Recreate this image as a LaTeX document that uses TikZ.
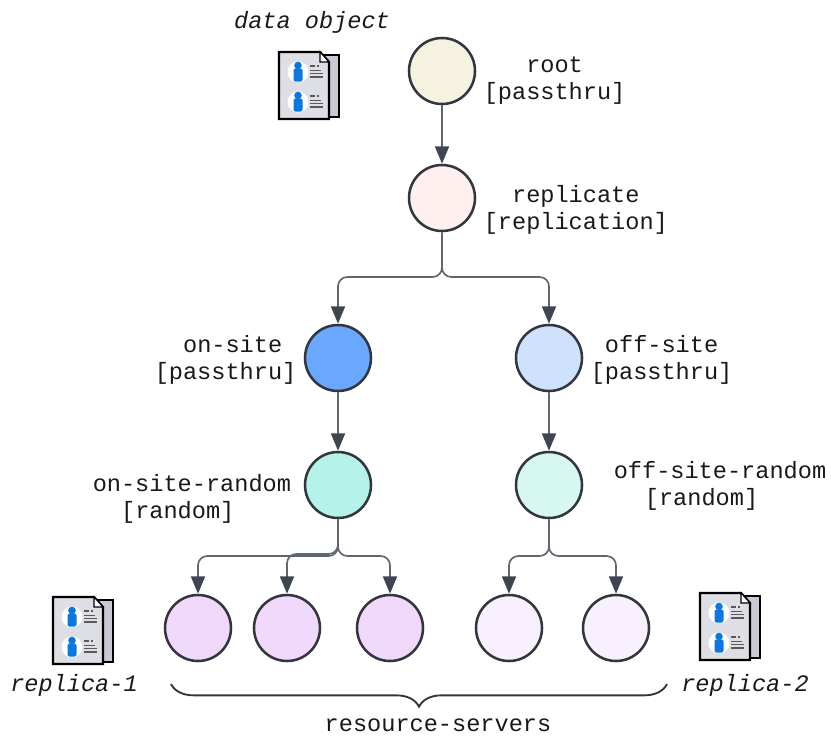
\documentclass[tikz,border=0pt]{standalone}
\usepackage{fontspec}
\setmonofont{Liberation Mono}
\usetikzlibrary{arrows.meta,decorations.pathreplacing}

\definecolor{edgegray}{HTML}{5F6670}
\definecolor{tipgray}{HTML}{3F4652}
\definecolor{ringgray}{HTML}{33373D}
\definecolor{pagefront}{HTML}{DEDFE5}
\definecolor{pageback}{HTML}{C9C9D4}
\definecolor{personblue}{HTML}{0A78E0}

\tikzset{
    server/.style={circle, draw=ringgray, line width=1.9pt, minimum size=49.5pt, inner sep=0pt},
    conn/.style={draw=edgegray, line width=1.25pt, rounded corners=7pt,
        -{Triangle[length=13pt,width=10.5pt,color=tipgray]}},
    lbl/.style={font=\ttfamily\fontsize{17.7}{20.25}\selectfont, align=left, anchor=west, inner sep=0pt, text=black!90},
    lblit/.style={font=\ttfamily\itshape\fontsize{17.7}{20.25}\selectfont, anchor=center, inner sep=0pt, text=black!90},
    docicon/.pic={
        \draw[black, line width=1.5pt, fill=pageback] (31,3) rectangle (60,65);
        \draw[black, line width=1.7pt, fill=pagefront] (0,0) -- (41,0) -- (50,10) -- (50,67) -- (0,67) -- cycle;
        \draw[black, line width=0.8pt, fill=white] (41,0) -- (41,10) -- (50,10) -- cycle;
        \foreach \py in {20,50} {
            \fill[white] (19,\py) circle (10.5);
            \fill[personblue] (19,\py-6.5) circle (3.8);
            \fill[personblue, rounded corners=1.5pt] (14.5,\py-3.5) rectangle (23.5,\py+9.5);
            \fill[black!65] (31,\py-7) rectangle (36,\py-5.4);
            \fill[black!65] (38,\py-7) rectangle (40,\py-5.4);
            \fill[black!65] (31,\py-2.5) rectangle (42,\py-0.9);
            \fill[black!65] (31,\py+0.8) rectangle (44,\py+2.4);
            \fill[black!65] (31,\py+4) rectangle (44,\py+5.6);
        }
    }
}

\begin{document}
\begin{tikzpicture}[x=0.75pt, y=-0.75pt]
    \useasboundingbox (0,0) rectangle (831,736);

    % Tree nodes
    \node[server, fill={rgb,255:red,245;green,242;blue,224}] (root) at (442,71) {};
    \node[server, fill={rgb,255:red,253;green,240;blue,238}] (replicate) at (442,198) {};
    \node[server, fill={rgb,255:red,105;green,168;blue,254}] (onsite) at (338,358) {};
    \node[server, fill={rgb,255:red,207;green,226;blue,253}] (offsite) at (549,358) {};
    \node[server, fill={rgb,255:red,181;green,242;blue,233}] (onrandom) at (338,485) {};
    \node[server, fill={rgb,255:red,214;green,248;blue,241}] (offrandom) at (549,485) {};

    % Resource servers
    \node[server, fill={rgb,255:red,240;green,217;blue,251}] (srvA) at (198,628) {};
    \node[server, fill={rgb,255:red,240;green,217;blue,251}] (srvB) at (287,628) {};
    \node[server, fill={rgb,255:red,240;green,217;blue,251}] (srvC) at (390,628) {};
    \node[server, fill={rgb,255:red,248;green,240;blue,253}] (srvD) at (509,628) {};
    \node[server, fill={rgb,255:red,248;green,240;blue,253}] (srvE) at (616,628) {};

    % Branch points
    \coordinate (splitTop) at (442,277);
    \coordinate (splitOn) at (338,556);
    \coordinate (splitOnMid) at (338,554);
    \coordinate (splitOff) at (549,556);

    % Connectors
    \draw[conn] (root) -- (replicate);
    \draw[conn] (replicate) -- (splitTop) -| (onsite);
    \draw[conn] (replicate) -- (splitTop) -| (offsite);
    \draw[conn] (onsite) -- (onrandom);
    \draw[conn] (offsite) -- (offrandom);
    \draw[conn] (onrandom) -- (splitOn) -| (srvA);
    \draw[conn] (onrandom) -- (splitOnMid) -| (srvB);
    \draw[conn] (onrandom) -- (splitOn) -| (srvC);
    \draw[conn] (offrandom) -- (splitOff) -| (srvD);
    \draw[conn] (offrandom) -- (splitOff) -| (srvE);

    % Labels
    \node[lbl] (rootlbl) at (483.5,81) {~~~root\\{}[passthru]};
    \node[lbl] (replicatelbl) at (483.5,210) {~~replicate\\{}[replication]};
    \node[lbl] (onsitelbl) at (154.5,360) {~~on-site\\{}[passthru]};
    \node[lbl] (offsitelbl) at (590.5,360) {~off-site\\{}[passthru]};
    \node[lbl] (onrandomlbl) at (92.5,499) {on-site-random\\~~[random]};
    \node[lbl] (offrandomlbl) at (613.5,486) {off-site-random\\\hspace{1.32em}[random]};

    % Data copies
    \pic at (279,52) {docicon};
    \pic at (53,597) {docicon};
    \pic at (700,593) {docicon};
    \node[lblit] (datalbl) at (312,22) {data object};
    \node[lblit] (replicaA) at (74,685) {replica-1};
    \node[lblit] (replicaB) at (745,685) {replica-2};

    % Brace under the servers
    \coordinate (braceL) at (171,684);
    \coordinate (braceR) at (667,684);
    \draw[ringgray, line width=1.4pt, decorate, decoration={brace, mirror, amplitude=17pt}] (braceL) -- (braceR);
    \node[lblit, font=\ttfamily\fontsize{17.7}{20.25}\selectfont] (serverslbl) at (438,725) {resource-servers};
\end{tikzpicture}
\end{document}
